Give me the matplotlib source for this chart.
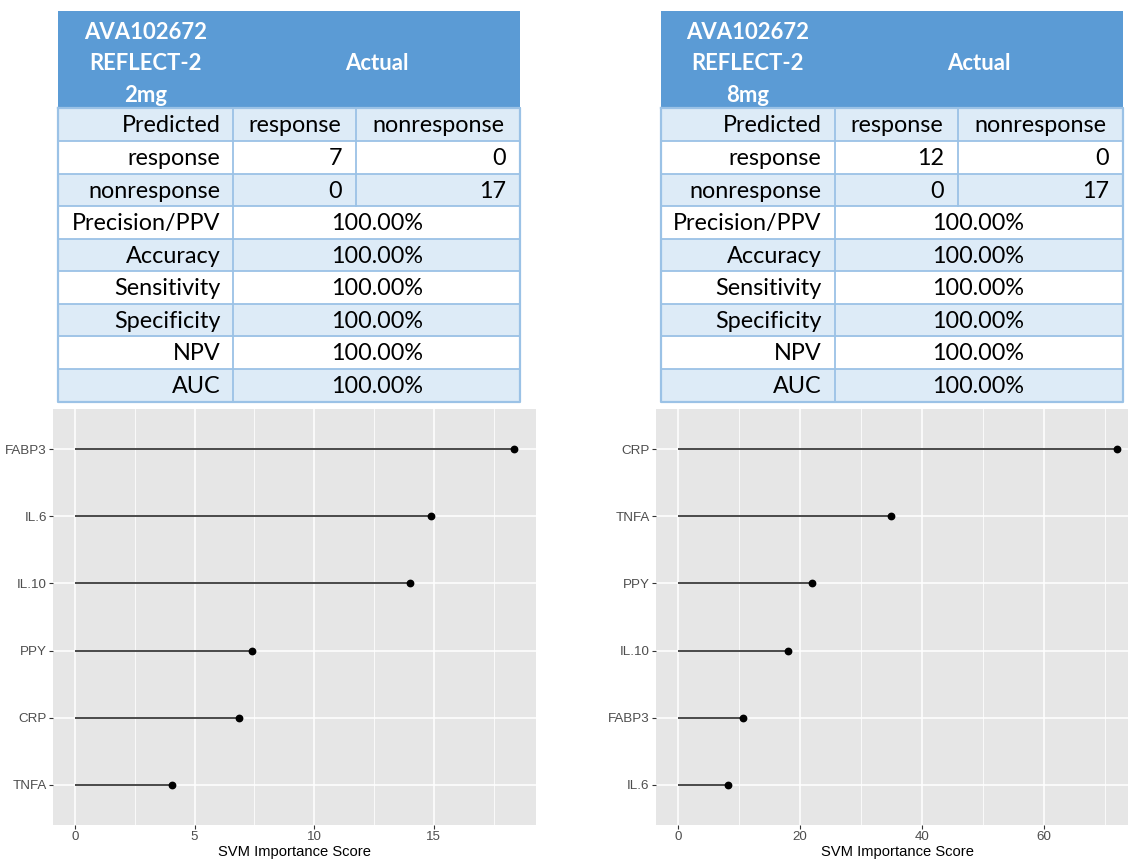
import matplotlib
matplotlib.use("Agg")
import matplotlib.pyplot as plt
from matplotlib.patches import Rectangle
from matplotlib.ticker import MultipleLocator

# confusion matrices (rows = predicted, cols = actual)
class_labels = ["response", "nonresponse"]
cm_2mg = [[7, 0], [0, 17]]
cm_8mg = [[12, 0], [0, 17]]

metric_names = ["Precision/PPV", "Accuracy", "Sensitivity", "Specificity", "NPV", "AUC"]
metrics_2mg = [100.00, 100.00, 100.00, 100.00, 100.00, 100.00]
metrics_8mg = [100.00, 100.00, 100.00, 100.00, 100.00, 100.00]

title_2mg = ["AVA102672", "REFLECT-2", "2mg"]
title_8mg = ["AVA102672", "REFLECT-2", "8mg"]

# SVM variable importance
markers_2mg = ["FABP3", "IL.6", "IL.10", "PPY", "CRP", "TNFA"]
scores_2mg = [18.35, 14.86, 14.00, 7.40, 6.86, 4.04]
markers_8mg = ["CRP", "TNFA", "PPY", "IL.10", "FABP3", "IL.6"]
scores_8mg = [72.0, 34.9, 22.0, 18.1, 10.7, 8.25]

W, H = 1128, 859
HEAD = "#5B9BD5"
BAND = "#DDEBF7"
EDGE = "#9BC2E6"
TFONT = ["Lato", "DejaVu Sans"]
GFONT = ["Liberation Sans", "DejaVu Sans"]
TSIZE = 16.8

fig = plt.figure(figsize=(W / 100, H / 100), dpi=100)

# pixel-space overlay for the tables
tab = fig.add_axes([0, 0, 1, 1])
tab.set_xlim(0, W)
tab.set_ylim(H, 0)
tab.axis("off")


def draw_table(cols, title, cm, metrics):
    x0, x1, x2, x3 = cols
    top, head_bot = 11, 108.3
    rh = (401.7 - head_bot) / 9
    # header block
    tab.add_patch(Rectangle((x0, top), x3 - x0, head_bot - top, fc=HEAD, ec="none"))
    cx = (x0 + x1) / 2
    for i, line in enumerate(title):
        tab.text(cx, 32.5 + i * 31.5, line, ha="center", va="center", color="white",
                 fontsize=15.9, fontweight="bold", family=TFONT)
    tab.text((x1 + x3) / 2, 63.5, "Actual", ha="center", va="center", color="white",
             fontsize=15.9, fontweight="bold", family=TFONT)

    rows = [["Predicted"] + class_labels]
    for lab, r in zip(class_labels, cm):
        rows.append([lab] + [str(v) for v in r])
    for name, v in zip(metric_names, metrics):
        rows.append([name, f"{v:.2f}%"])

    for i, row in enumerate(rows):
        y = head_bot + i * rh
        fc = BAND if i % 2 == 0 else "white"
        tab.add_patch(Rectangle((x0, y), x3 - x0, rh, fc=fc, ec="none"))
        yc = y + rh / 2 + 1.2
        tab.text(x1 - 13, yc, row[0], ha="right", va="center", fontsize=TSIZE, family=TFONT)
        if len(row) == 3:
            if i == 0:
                tab.text((x1 + x2) / 2, yc, row[1], ha="center", va="center", fontsize=TSIZE, family=TFONT)
                tab.text((x2 + x3) / 2, yc, row[2], ha="center", va="center", fontsize=TSIZE, family=TFONT)
            else:
                tab.text(x2 - 14, yc, row[1], ha="right", va="center", fontsize=TSIZE, family=TFONT)
                tab.text(x3 - 14, yc, row[2], ha="right", va="center", fontsize=TSIZE, family=TFONT)
            tab.plot([x2, x2], [y, y + rh], color=EDGE, lw=1.3)
        else:
            tab.text((x1 + x3) / 2, yc, row[1], ha="center", va="center", fontsize=TSIZE, family=TFONT)
        tab.plot([x0, x3], [y, y], color=EDGE, lw=1.3)

    bot = head_bot + 9 * rh
    tab.plot([x1, x1], [head_bot, bot], color=EDGE, lw=1.3)
    tab.plot([x0, x3, x3, x0, x0], [head_bot, head_bot, bot, bot, head_bot], color=EDGE, lw=1.6)


draw_table([58, 233.3, 356, 520], title_2mg, cm_2mg, metrics_2mg)
draw_table([660.7, 834.5, 958, 1122.7], title_8mg, cm_8mg, metrics_8mg)


def lollipop(rect, names, scores, major):
    ax = fig.add_axes(rect)
    ax.set_facecolor("#E6E6E6")
    n = len(names)
    ypos = list(range(n, 0, -1))
    ax.hlines(ypos, 0, scores, color="#2B2B2B", lw=1.2, zorder=3)
    ax.plot(scores, ypos, "o", color="black", ms=4.6, zorder=4)
    top = max(scores)
    ax.set_xlim(-0.05 * top, 1.05 * top)
    ax.set_ylim(0.4, n + 0.6)
    ax.set_yticks(ypos)
    ax.set_yticklabels(names, family=GFONT)
    ax.xaxis.set_major_locator(MultipleLocator(major))
    ax.xaxis.set_minor_locator(MultipleLocator(major / 2))
    for lab in ax.get_xticklabels():
        lab.set_family(GFONT)
    ax.grid(which="major", color="white", lw=1.1)
    ax.grid(which="minor", axis="x", color="white", lw=0.55)
    ax.set_axisbelow(True)
    for s in ax.spines.values():
        s.set_visible(False)
    ax.tick_params(which="major", length=2.7, width=0.8, color="#333333",
                   labelcolor="#4D4D4D", labelsize=9.6, pad=1.8)
    ax.tick_params(which="minor", length=0)
    ax.set_xlabel("SVM Importance Score", fontsize=10.6, family=GFONT, va="center")
    ax.xaxis.set_label_coords(0.5, -0.064)
    return ax


# axes rectangles in pixels: left, top, right, bottom
def px_rect(l, t, r, b):
    return [l / W, (H - b) / H, (r - l) / W, (b - t) / H]


lollipop(px_rect(53, 409, 536, 825), markers_2mg, scores_2mg, 5)
lollipop(px_rect(656, 409, 1139, 825), markers_8mg, scores_8mg, 20)

fig.savefig("out.png", dpi=100)
